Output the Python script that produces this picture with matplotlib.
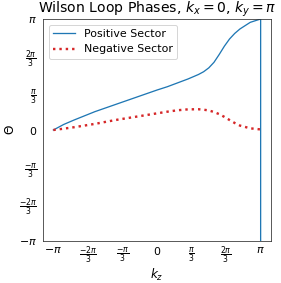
import numpy as np
import matplotlib
matplotlib.use("Agg")
import matplotlib.pyplot as plt

# kz samples in units of pi (last repeated point = phase wrap at kz = pi)
kz = [-1.0, -0.9, -0.8, -0.6, -0.4, -0.2, 0.0, 0.1, 0.2, 0.3, 0.4, 0.45, 0.5, 0.55,
      0.6, 0.65, 0.7, 0.75, 0.8, 0.9, 1.0, 1.0]
pos_phase = [0.0, 0.05, 0.09, 0.165, 0.23, 0.295, 0.36, 0.39, 0.425, 0.46, 0.5, 0.525,
             0.56, 0.61, 0.68, 0.755, 0.82, 0.87, 0.91, 0.97, 1.0, -1.0]
neg_phase = [0.0, 0.012, 0.025, 0.055, 0.09, 0.12, 0.15, 0.165, 0.178, 0.186, 0.187, 0.183,
             0.176, 0.162, 0.143, 0.118, 0.09, 0.063, 0.04, 0.015, 0.005, 0.005]

ticks = [-1, -2/3, -1/3, 0, 1/3, 2/3, 1]
tick_labels = [r"$-\pi$", r"$\frac{-2\pi}{3}$", r"$\frac{-\pi}{3}$", r"$0$",
               r"$\frac{\pi}{3}$", r"$\frac{2\pi}{3}$", r"$\pi$"]

fig = plt.figure(figsize=(281/72, 283/72), dpi=72)
ax = fig.add_axes([43/281, 1-241/283, 228/281, 222/283])

ax.plot(np.array(kz)*np.pi, np.array(pos_phase)*np.pi, color="tab:blue", lw=1.3, label="Positive Sector")
ax.plot(np.array(kz)*np.pi, np.array(neg_phase)*np.pi, color="tab:red", ls=":", lw=2.4, label="Negative Sector")

ax.set_ylim(-np.pi, np.pi)
ax.set_xticks(np.array(ticks)*np.pi)
ax.set_xticklabels(tick_labels)
ax.set_yticks(np.array(ticks)*np.pi)
ax.set_yticklabels(tick_labels)
ax.tick_params(length=0, labelsize=11)
ax.tick_params(axis="x", pad=4)
ax.tick_params(axis="y", pad=6)
for s in ax.spines.values():
    s.set_color("#333333")

ax.set_xlabel(r"$k_z$", fontsize=12, labelpad=0)
ax.set_ylabel(r"$\Theta$", fontsize=12, labelpad=2)
ax.set_title(r"Wilson Loop Phases, $k_x=0$, $k_y=\pi$", fontsize=14, pad=3)
ax.legend(loc="upper left", fontsize=11)

fig.savefig("out.png", dpi=72)
